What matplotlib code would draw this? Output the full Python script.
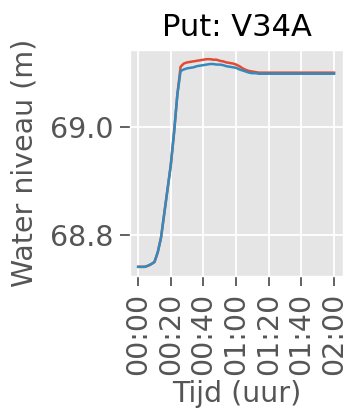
import matplotlib
matplotlib.use("Agg")
import matplotlib.pyplot as plt

plt.style.use("ggplot")

minutes = list(range(0, 121, 2))
red_level = [68.741, 68.741, 68.741, 68.743, 68.746, 68.750, 68.768, 68.795, 68.840, 68.885,
             68.930, 68.990, 69.060, 69.112, 69.118, 69.120, 69.121, 69.122, 69.123, 69.124,
             69.125, 69.126, 69.126, 69.125, 69.125, 69.123, 69.122, 69.120, 69.119, 69.118,
             69.116, 69.113, 69.109, 69.106, 69.104, 69.103, 69.102, 69.101, 69.101, 69.101,
             69.101, 69.101, 69.101, 69.101, 69.101, 69.101, 69.101, 69.101, 69.101, 69.101,
             69.101, 69.101, 69.101, 69.101, 69.101, 69.101, 69.101, 69.101, 69.101, 69.101,
             69.101]
blue_level = [68.741, 68.741, 68.741, 68.743, 68.746, 68.750, 68.768, 68.795, 68.840, 68.885,
              68.930, 68.990, 69.060, 69.104, 69.107, 69.109, 69.110, 69.111, 69.113, 69.114,
              69.115, 69.116, 69.117, 69.117, 69.116, 69.116, 69.115, 69.113, 69.112, 69.111,
              69.110, 69.107, 69.105, 69.103, 69.101, 69.100, 69.100, 69.099, 69.099, 69.099,
              69.099, 69.099, 69.099, 69.099, 69.099, 69.099, 69.099, 69.099, 69.099, 69.099,
              69.099, 69.099, 69.099, 69.099, 69.099, 69.099, 69.099, 69.099, 69.099, 69.099,
              69.099]
tick_minutes = [0, 20, 40, 60, 80, 100, 120]
tick_labels = ["00:00", "00:20", "00:40", "01:00", "01:20", "01:40", "02:00"]
y_ticks = [68.8, 69.0]

W, H = 343, 409
fig = plt.figure(figsize=(W / 100, H / 100), dpi=100)
ax = fig.add_axes([130 / W, 1 - 276 / H, (W - 130) / W, (276 - 50) / H])

ax.plot(minutes, red_level, color="#E24A33", lw=1.8)
ax.plot(minutes, blue_level, color="#348ABD", lw=1.8)

ax.set_xlim(-5, 125.5)
ax.set_ylim(68.724, 69.143)
ax.set_xticks(tick_minutes)
ax.set_xticklabels(tick_labels, rotation=90, fontsize=20.5, color="#555555")
ax.set_yticks(y_ticks)
ax.set_yticklabels([f"{v:.1f}" for v in y_ticks], fontsize=20.5, color="#555555")
ax.tick_params(axis="both", length=7, width=1.3, color="#555555", pad=5)
ax.set_xlabel("Tijd (uur)", fontsize=20.5, color="#555555", labelpad=4)
ax.set_ylabel("Water niveau (m)", fontsize=20.5, color="#555555", labelpad=8)
ax.set_title("Put: V34A", fontsize=22, color="black", pad=10)
ax.grid(True, color="white", lw=1.3)

fig.savefig("out.png", dpi=100)
